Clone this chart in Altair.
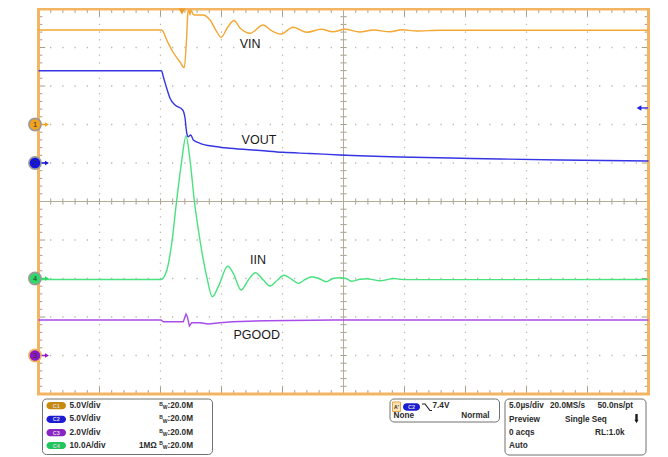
import altair as alt
import numpy as np
import pandas as pd

# Scope capture: time in microseconds (5 us/div), amplitude in screen divisions (centre line = 0)
vin_t = [-25.0, -14.90, -14.49, -13.98, -13.40, -13.05, -12.87, -12.75, -12.66, -12.58, -12.50, -12.34,
         -12.17, -11.52, -10.94, -10.39, -10.04, -9.47, -8.98, -8.48, -7.66, -6.60, -5.86, -5.12, -4.14,
         -2.99, -1.84, -0.86, 0.12, 1.35, 2.42, 3.81, 4.80, 6.02, 7.91, 25.0]
vin_d = [4.455, 4.455, 4.195, 3.883, 3.623, 3.475, 4.195, 4.922, 4.98, 4.844, 4.974, 4.870,
         4.844, 4.844, 4.714, 4.410, 4.265, 4.540, 4.701, 4.506, 4.369, 4.584, 4.429, 4.351, 4.525,
         4.395, 4.473, 4.410, 4.473, 4.403, 4.455, 4.410, 4.462, 4.429, 4.447, 4.447]

vout_t = [-25.0, -14.92, -14.77, -14.49, -14.22, -13.81, -13.18, -12.99, -12.85, -12.72, -12.52, -12.31,
          -11.76, -10.53, -9.30, -6.84, -4.96, -2.75, -0.29, 4.63, 8.73, 12.83, 17.75, 25.0]
vout_d = [3.397, 3.397, 3.242, 2.940, 2.681, 2.506, 2.377, 2.169, 1.779, 1.683, 1.727, 1.597,
          1.512, 1.429, 1.382, 1.325, 1.278, 1.247, 1.208, 1.156, 1.130, 1.104, 1.078, 1.052]

iin_t = [-25.0, -14.96, -14.49, -14.08, -13.67, -13.28, -12.91, -12.58, -12.23, -11.76, -11.21, -10.75,
         -10.26, -9.49, -9.03, -8.40, -7.80, -7.23, -6.57, -6.02, -5.45, -4.88, -4.30, -3.70, -3.16,
         -2.61, -2.01, -1.43, -0.86, -0.29, 0.20, 0.70, 1.35, 1.93, 2.42, 2.99, 3.57, 4.06, 4.63, 5.04, 25.0]
iin_d = [-2.026, -2.026, -1.792, -1.091, 0.039, 1.013, 1.701, 1.078, 0.026, -1.013, -1.953, -2.473,
         -2.213, -1.683, -1.865, -2.299, -2.039, -1.849, -2.039, -2.195, -2.052, -1.917, -2.010, -2.123, -2.030,
         -1.953, -2.000, -2.083, -2.000, -1.979, -2.000, -2.070, -2.020, -2.008, -2.030, -2.060, -2.030, -2.000, -2.020, -2.030, -2.026]

pgood_t = [-25.0, -14.96, -14.77, -13.13, -12.91, -12.80, -12.63, -12.44, -11.76, -11.08, -10.12, -9.06, -6.30, -0.86, 25.0]
pgood_d = [-3.078, -3.078, -3.122, -3.122, -2.922, -2.992, -3.234, -3.148, -3.148, -3.182, -3.148, -3.122, -3.096, -3.078, -3.078]

trace_names = ["VIN", "VOUT", "IIN", "PGOOD"]
label_t = [-7.66, -6.93, -7.00, -7.11]
label_d = [4.09, 1.60, -1.51, -3.46]

channel_ids = ["1", "2", "4", "3"]
channel_ground = [2.0, 1.0, -2.0, -4.0]
trigger_time = -13.24
trigger_level = 2.43

info_left = ["5.0V/div", "5.0V/div", "2.0V/div", "10.0A/div"]
badge_names = ["C1", "C2", "C3", "C4"]

COL = {"VIN": "#F4A732", "VOUT": "#3535E4", "IIN": "#48E27E", "PGOOD": "#A84CEA"}
FILL_CH = {"1": "#F2A21E", "2": "#1414E0", "4": "#2FD968", "3": "#8A18C6"}
BADGE = {"C1": "#C8890F", "C2": "#1C1CD4", "C3": "#8A24C6", "C4": "#22C45C"}
TAN = "#B5AC98"
ORANGE = "#F3B564"


def px2t(px):
    return (px - 343.5) / 12.2


def py2d(py):
    return (201.5 - py) / 38.5


XS = alt.Scale(domain=[-25, 25], range=[30.5, 640.5], nice=False, zero=False)
YS = alt.Scale(domain=[-5, 5], range=[386, 1], nice=False, zero=False)


def XY():
    return dict(x=alt.X("t:Q", scale=XS, axis=None), y=alt.Y("d:Q", scale=YS, axis=None))


def XY2():
    return dict(x=alt.X("t:Q", scale=XS, axis=None), x2=alt.X2("t2"),
                y=alt.Y("d:Q", scale=YS, axis=None), y2=alt.Y2("d2"))


layers = []

# graticule dots
dots = []
for d in range(-4, 5):
    if d == 0:
        continue
    for t in range(-25, 26):
        dots.append((t, d))
for t in range(-20, 21, 5):
    if t == 0:
        continue
    for k in range(-25, 26):
        dots.append((t, k * 0.2))
dots_df = pd.DataFrame(dots, columns=["t", "d"])
layers.append(alt.Chart(dots_df).mark_square(size=1.6, color="#BDB6A6", opacity=1).encode(**XY()))

# tick marks on border and centre cross
ticks = []
for t in range(-25, 26):
    L = 0.18 if t % 5 == 0 else 0.1
    ticks += [(t, t, 5, 5 - L), (t, t, -5, -5 + L), (t, t, -0.08, 0.08)]
for k in range(-25, 26):
    d = k * 0.2
    L = 0.55 if k % 5 == 0 else 0.32
    ticks += [(-25, -25 + L, d, d), (25, 25 - L, d, d), (-0.25, 0.25, d, d)]
ticks_df = pd.DataFrame(ticks, columns=["t", "t2", "d", "d2"])
layers.append(alt.Chart(ticks_df).mark_rule(color="#A79E8A", strokeWidth=1).encode(**XY2()))

cross_df = pd.DataFrame([(0, 0, -5, 5), (-25, 25, 0, 0)], columns=["t", "t2", "d", "d2"])
layers.append(alt.Chart(cross_df).mark_rule(color=TAN, strokeWidth=1).encode(**XY2()))

border_df = pd.DataFrame([(-25, 25, -5, 5)], columns=["t", "t2", "d", "d2"])
layers.append(alt.Chart(border_df).mark_rect(fillOpacity=0, stroke=ORANGE, strokeWidth=3).encode(**XY2()))

# traces
series = {
    "VIN": (vin_t, vin_d), "IIN": (iin_t, iin_d), "VOUT": (vout_t, vout_d), "PGOOD": (pgood_t, pgood_d)
}
for name in ["VIN", "IIN", "VOUT", "PGOOD"]:
    tt, dd = series[name]
    df = pd.DataFrame({"t": tt, "d": dd})
    interp = "linear" if name == "PGOOD" else "monotone"
    layers.append(alt.Chart(df).mark_line(color=COL[name], strokeWidth=1.4, interpolate=interp).encode(**XY()))

# trace labels
lab_df = pd.DataFrame({"t": label_t, "d": label_d, "s": trace_names})
layers.append(alt.Chart(lab_df).mark_text(font="Liberation Sans", fontSize=12.5, color="#1a1a1a",
                                          align="center", baseline="middle").encode(text="s:N", **XY()))

# channel ground markers
mk = pd.DataFrame({"t": [px2t(35)] * 4, "d": channel_ground, "s": channel_ids,
                   "fill": [FILL_CH[c] for c in channel_ids],
                   "stroke": ["#9a9a9a", "#9a9a9a", "#9a9a9a", ORANGE]})
arr_rule = pd.DataFrame({"t": [px2t(41)] * 4, "t2": [px2t(46)] * 4, "d": channel_ground, "d2": channel_ground,
                         "fill": [FILL_CH[c] for c in channel_ids]})
arr_tri = pd.DataFrame({"t": [px2t(47)] * 4, "d": channel_ground, "fill": [FILL_CH[c] for c in channel_ids]})
layers.append(alt.Chart(arr_rule).mark_rule(strokeWidth=1.5).encode(
    color=alt.Color("fill:N", scale=None), **XY2()))
layers.append(alt.Chart(arr_tri).mark_point(shape="triangle-right", size=22, filled=True, opacity=1).encode(
    fill=alt.Fill("fill:N", scale=None), color=alt.Color("fill:N", scale=None), **XY()))
layers.append(alt.Chart(mk).mark_point(shape="circle", size=150, filled=True, strokeWidth=1.6, opacity=1).encode(
    fill=alt.Fill("fill:N", scale=None), stroke=alt.Stroke("stroke:N", scale=None), **XY()))
layers.append(alt.Chart(mk).mark_text(font="Liberation Sans", fontSize=7.5, color="#333",
                                      align="center", baseline="middle").encode(text="s:N", **XY()))

# trigger time marker (top) and trigger level arrow (right)
trig_df = pd.DataFrame({"t": [trigger_time], "d": [py2d(11.5)]})
layers.append(alt.Chart(trig_df).mark_point(shape="triangle-down", size=45, filled=True, color="#F09A22",
                                            opacity=1).encode(**XY()))
lvl_rule = pd.DataFrame({"t": [px2t(640)], "t2": [px2t(648)], "d": [trigger_level], "d2": [trigger_level]})
layers.append(alt.Chart(lvl_rule).mark_rule(color="#3A3AE6", strokeWidth=1.5).encode(**XY2()))
lvl_tri = pd.DataFrame({"t": [px2t(639)], "d": [trigger_level]})
layers.append(alt.Chart(lvl_tri).mark_point(shape="triangle-left", size=30, filled=True, color="#2020E0",
                                            opacity=1).encode(**XY()))

# ---------- information panel below the graticule (layout in screen pixels) ----------
def box(x1, x2, y1, y2):
    return (px2t(x1), px2t(x2), py2d(y2), py2d(y1))

boxes = pd.DataFrame([box(42.5, 212.5, 399, 454.5), box(390, 499.5, 399, 422), box(505, 646, 399, 455)],
                     columns=["t", "t2", "d", "d2"])
layers.append(alt.Chart(boxes).mark_rect(fill="white", stroke="#707070", strokeWidth=1, cornerRadius=4).encode(**XY2()))

rows_y = [405.7, 419.3, 432.7, 445.5]
badge_rows = [box(46.5, 66, y - 3.6, y + 3.6) for y in rows_y] + [box(403, 420, 403.3, 410.7)]
badge_df = pd.DataFrame(badge_rows, columns=["t", "t2", "d", "d2"])
badge_df["fill"] = [BADGE[b] for b in badge_names] + [BADGE["C2"]]
layers.append(alt.Chart(badge_df).mark_rect(cornerRadius=3.6, opacity=1).encode(
    fill=alt.Fill("fill:N", scale=None), **XY2()))
badge_txt = pd.DataFrame({"t": [px2t(56.3)] * 4 + [px2t(411.5)], "d": [py2d(y) for y in rows_y] + [py2d(407)],
                          "s": badge_names + ["C2"]})
layers.append(alt.Chart(badge_txt).mark_text(font="Liberation Sans", fontSize=5.5, fontWeight="bold",
                                             color="#d8d8d8", align="center", baseline="middle").encode(text="s:N", **XY()))

abox = pd.DataFrame([box(392.5, 400.5, 402, 411.5)], columns=["t", "t2", "d", "d2"])
layers.append(alt.Chart(abox).mark_rect(fill="#FBE3B6", stroke="#E9A547", strokeWidth=1).encode(**XY2()))

edge = pd.DataFrame({"t": [px2t(422), px2t(425), px2t(430), px2t(432)],
                     "d": [py2d(404), py2d(404), py2d(410.5), py2d(410.5)], "o": [0, 1, 2, 3]})
layers.append(alt.Chart(edge).mark_line(color="#222", strokeWidth=1.2).encode(order="o:Q", **XY()))

dn_rule = pd.DataFrame({"t": [px2t(636.5)], "t2": [px2t(636.5)], "d": [py2d(414)], "d2": [py2d(420)]})
layers.append(alt.Chart(dn_rule).mark_rule(color="#1a1a1a", strokeWidth=2.4).encode(**XY2()))
dn_tri = pd.DataFrame({"t": [px2t(636.5)], "d": [py2d(421.5)]})
layers.append(alt.Chart(dn_tri).mark_point(shape="triangle-down", size=16, filled=True, color="#1a1a1a",
                                           opacity=1).encode(**XY()))

left_txt = ([(69.5, y, s) for y, s in zip(rows_y, info_left)] +
            [(167.5, y, ":20.0M") for y in rows_y] +
            [(139, rows_y[3], "1M\u03a9")] +
            [(432.5, 406, "7.4V"), (393.5, 416.2, "None"),
             (509, 406, "5.0\u00b5s/div"), (550, 406, "20.0MS/s"),
             (509, 419.5, "Preview"), (565, 419.5, "Single Seq"),
             (509, 433, "0 acqs"), (595, 433, "RL:1.0k"), (509, 446, "Auto")])
lt = pd.DataFrame({"t": [px2t(a) for a, b, c in left_txt], "d": [py2d(b) for a, b, c in left_txt],
                   "s": [c for a, b, c in left_txt]})
layers.append(alt.Chart(lt).mark_text(font="Liberation Sans", fontSize=8.2, fontWeight="bold", color="#2a2a2a",
                                      align="left", baseline="middle").encode(text="s:N", **XY()))

right_txt = [(489.5, 416.2, "Normal"), (633, 406, "50.0ns/pt")]
rt = pd.DataFrame({"t": [px2t(a) for a, b, c in right_txt], "d": [py2d(b) for a, b, c in right_txt],
                   "s": [c for a, b, c in right_txt]})
layers.append(alt.Chart(rt).mark_text(font="Liberation Sans", fontSize=8.2, fontWeight="bold", color="#2a2a2a",
                                      align="right", baseline="middle").encode(text="s:N", **XY()))

small_txt = ([(161, y - 2.2, "B") for y in rows_y] + [(165.2, y + 1.6, "W") for y in rows_y] +
             [(396.5, 406.5, "A'")])
st = pd.DataFrame({"t": [px2t(a) for a, b, c in small_txt], "d": [py2d(b) for a, b, c in small_txt],
                   "s": [c for a, b, c in small_txt]})
layers.append(alt.Chart(st).mark_text(font="Liberation Sans", fontSize=5, fontWeight="bold", color="#2a2a2a",
                                      align="center", baseline="middle").encode(text="s:N", **XY()))

chart = alt.layer(*layers).properties(
    width=652, height=449, autosize=alt.AutoSizeParams(type="none"), padding=0,
    background="white"
).configure_view(stroke=None)

chart.save("out.html", embed_options={"renderer": "svg", "actions": False})
